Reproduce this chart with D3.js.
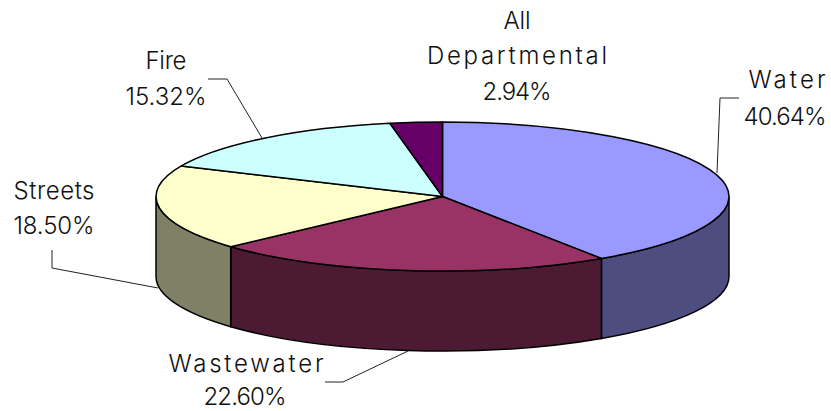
<!DOCTYPE html>
<html>
<head>
<meta charset="utf-8">
<script src="https://cdn.jsdelivr.net/npm/d3@7.9.0/dist/d3.min.js"></script>
<style>
  html, body { margin: 0; padding: 0; background: #fff; }
  svg { display: block; }
  text { font-family: "Inter", sans-serif; font-weight: 300; font-size: 24px; fill: #111; }
</style>
</head>
<body>
<svg id="chart" width="831" height="411"></svg>
<script>
// Values (clockwise from 12 o'clock)
const categories = ["Water", "Wastewater", "Streets", "Fire", "All Departmental"];
const shares = [40.64, 22.6, 18.5, 15.32, 2.94];
const shareLabels = ["40.64%", "22.60%", "18.50%", "15.32%", "2.94%"];
const topColors = ["#9999ff", "#993366", "#ffffcc", "#ccffff", "#660066"];
const sideColors = ["#4d4d80", "#4d1a33", "#808066", "#668080", "#330033"];

const cx = 442.5, cy = 196.5, rx = 286.5, ry = 74.5, depth = 80;
const svg = d3.select("#chart");

const arcs = d3.pie().sort(null).value(d => d)(shares);

// d3 angle (0 = up, clockwise) squashed into the ellipse
const px = a => cx + rx * Math.sin(a);
const py = a => cy - ry * Math.cos(a);

function topPath(a0, a1) {
  const large = a1 - a0 > Math.PI ? 1 : 0;
  return `M${cx},${cy}L${px(a0)},${py(a0)}A${rx},${ry} 0 ${large} 1 ${px(a1)},${py(a1)}Z`;
}

// only the front half of the rim shows (PI/2 to 3PI/2)
function sidePath(a0, a1) {
  const s = Math.max(a0, Math.PI / 2), e = Math.min(a1, 3 * Math.PI / 2);
  if (e <= s) return null;
  return `M${px(s)},${py(s)}A${rx},${ry} 0 0 1 ${px(e)},${py(e)}` +
         `L${px(e)},${py(e) + depth}A${rx},${ry} 0 0 0 ${px(s)},${py(s) + depth}Z`;
}

arcs.forEach((d, i) => {
  const p = sidePath(d.startAngle, d.endAngle);
  if (p) svg.append("path").attr("d", p).attr("fill", sideColors[i]).attr("stroke", "#000").attr("stroke-width", 1.5);
});
svg.selectAll("path.top").data(arcs).join("path")
  .attr("class", "top")
  .attr("d", d => topPath(d.startAngle, d.endAngle))
  .attr("fill", (d, i) => topColors[i])
  .attr("stroke", "#000")
  .attr("stroke-width", 1.5)
  .attr("stroke-linejoin", "round");

// leader lines
const leaders = [
  [[739, 98], [720, 98], [717, 173]],
  [[325, 382], [343, 382], [408, 351]],
  [[52, 250], [52, 268], [158, 288]],
  [[208, 79], [227, 79], [262, 138]]
];
leaders.forEach(l => svg.append("path").attr("d", d3.line()(l)).attr("fill", "none").attr("stroke", "#222"));

// w = measured width of each line in the reference, the font here runs narrower
const labels = [
  { x: [787, 785], lines: ["Water", shareLabels[0]], y: [88, 125], w: [77, 83] },
  { x: [246, 245], lines: [categories[1], shareLabels[1]], y: [372, 405], w: [155, 83] },
  { x: [54, 54], lines: [categories[2], shareLabels[2]], y: [199, 234], w: [81, 81] },
  { x: [166, 166], lines: [categories[3], shareLabels[3]], y: [69, 105], w: [41, 81] },
  { x: [517, 517, 517], lines: ["All", "Departmental", shareLabels[4]], y: [29, 64, 100], w: [27, 180, 69] }
];
labels.forEach(l => l.lines.forEach((t, i) => {
  svg.append("text")
    .attr("x", l.x[i]).attr("y", l.y[i])
    .attr("text-anchor", "middle")
    .attr("textLength", l.w[i])
    .attr("lengthAdjust", "spacing")
    .text(t);
}));
</script>
</body>
</html>
